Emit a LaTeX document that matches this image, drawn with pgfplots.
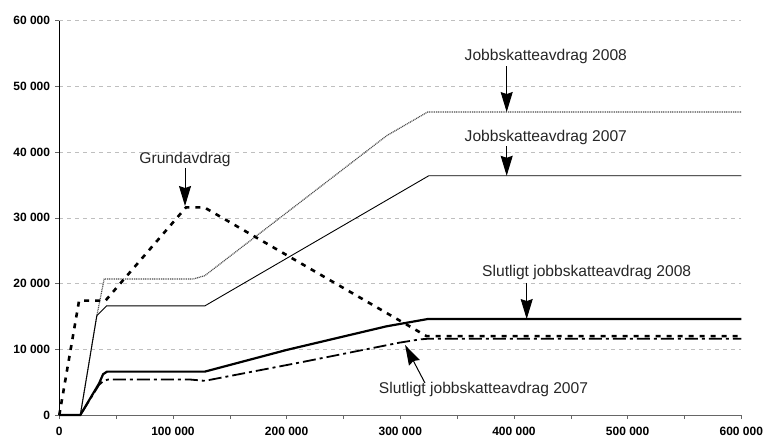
\documentclass[border=0pt]{standalone}
\usepackage{fontspec}
\setmainfont{Liberation Sans}
\usepackage{pgfplots}
\pgfplotsset{compat=1.18}
\usetikzlibrary{arrows.meta}

\begin{document}
\begin{tikzpicture}[
  lbl/.style={font=\fontsize{15.6}{18}\selectfont, text=black!85, inner sep=0pt},
  arr/.style={line width=1pt, -{Stealth[length=20pt,width=12pt,inset=2pt]}},
]
\begin{axis}[
  scale only axis, width=682pt, height=394.3pt,
  xmin=0, xmax=600000, ymin=0, ymax=60000,
  axis x line*=bottom, axis y line*=left,
  axis line style={-},
  x axis line style={gray!80!black, line width=0.8pt},
  y axis line style={black, line width=0.8pt},
  xtick={0,100000,200000,300000,400000,500000,600000},
  minor xtick={50000,150000,250000,350000,450000,550000},
  xticklabels={0,100 000,200 000,300 000,400 000,500 000,600 000},
  ytick={0,10000,20000,30000,40000,50000,60000},
  yticklabels={0,10 000,20 000,30 000,40 000,50 000,60 000},
  scaled ticks=false,
  tick align=outside, major tick length=4pt, minor tick length=4pt,
  xtick style={gray!80!black, line width=0.6pt},
  ytick style={gray!80!black, line width=0.6pt},
  ymajorgrids,
  grid style={gray!50, dash pattern=on 4pt off 4pt, line width=0.6pt},
  tick label style={font=\bfseries\fontsize{12}{14}\selectfont, inner sep=0pt},
  xticklabel style={yshift=-8pt},
  yticklabel style={xshift=-5pt},
  clip=false,
]
% Jobbskatteavdrag 2008 (dotted)
\addplot[gray!60!black, line width=1.2pt, dash pattern=on 1pt off 0.8pt] coordinates {
  (0,0) (18500,0) (33000,15100) (39500,20700) (118000,20700) (128000,21200)
  (288000,42500) (324000,46100) (600000,46100)
};
% Jobbskatteavdrag 2007 (thin solid)
\addplot[black, line width=0.9pt] coordinates {
  (0,0) (18500,0) (33000,15100) (41500,16600) (128000,16600)
  (325000,36400) (600000,36400)
};
% Slutligt jobbskatteavdrag 2007 (dash-dot)
\addplot[black, line width=1.8pt, dash pattern=on 13pt off 4pt on 3pt off 4pt] coordinates {
  (0,0) (18500,0) (35000,4600) (39000,5200) (43000,5400) (115000,5400)
  (128000,5200) (215000,8100) (299000,11000) (317000,11500) (324000,11600)
  (600000,11600)
};
% Slutligt jobbskatteavdrag 2008 (thick solid)
\addplot[black, line width=2.2pt] coordinates {
  (0,0) (18500,0) (35000,4800) (38500,6200) (42000,6600) (128000,6600)
  (200000,9900) (288000,13500) (324000,14600) (600000,14600)
};
% Grundavdrag (thick dashed)
\addplot[black, line width=2.6pt, dash pattern=on 5pt off 6pt] coordinates {
  (0,0) (17400,17400) (40600,17400) (111500,31600) (127500,31600)
  (323100,12000) (600000,12000)
};

\node[lbl, anchor=base] at (axis cs:110600,38200) {Grundavdrag};
\draw[arr] (axis cs:110600,37600) -- (axis cs:110600,31800);

\node[lbl, anchor=base] at (axis cs:428000,53900) {Jobbskatteavdrag 2008};
\draw[arr] (axis cs:393600,53100) -- (axis cs:393600,46100);

\node[lbl, anchor=base] at (axis cs:428000,41600) {Jobbskatteavdrag 2007};
\draw[arr] (axis cs:393600,40900) -- (axis cs:393600,36400);

\node[lbl, anchor=base] at (axis cs:464000,21150) {Slutligt jobbskatteavdrag 2008};
\draw[arr] (axis cs:411200,20100) -- (axis cs:411200,14600);

\node[lbl, anchor=base] at (axis cs:373200,3300) {Slutligt jobbskatteavdrag 2007};
\draw[arr] (axis cs:321700,4870) -- (axis cs:304200,10650);
\end{axis}
\pgfresetboundingbox
\path[use as bounding box] (-59.3pt,-22pt) rectangle (703.7pt,415pt);
\end{tikzpicture}
\end{document}
